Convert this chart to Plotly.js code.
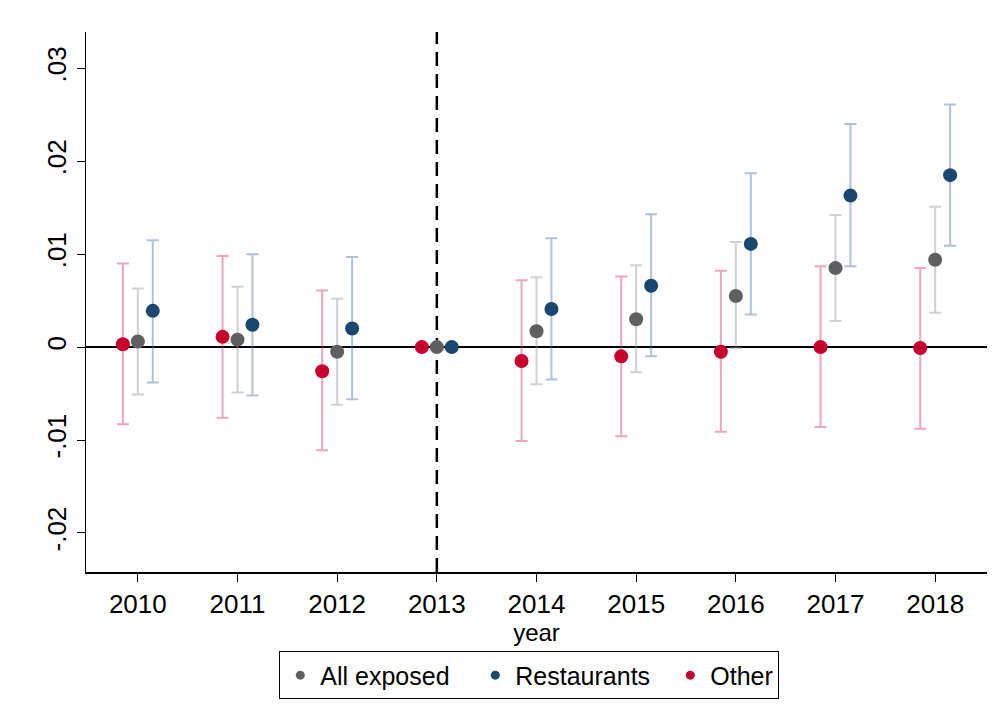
<!DOCTYPE html>
<html>
<head>
<meta charset="utf-8">
<script src="https://cdn.plot.ly/plotly-3.0.1.min.js"></script>
<style>
  html, body { margin: 0; padding: 0; background: #fff; }
  #plot { width: 1000px; height: 725px; }
</style>
</head>
<body>
<div id="plot"></div>
<script>
var years = [2010, 2011, 2012, 2013, 2014, 2015, 2016, 2017, 2018];

// point estimates and 95% CI bounds
var allCoef = [0.0006, 0.0008, -0.0005, 0, 0.0017, 0.0030, 0.0055, 0.0085, 0.0094];
var allLo   = [-0.0051, -0.0049, -0.0062, 0, -0.0040, -0.0027, -0.0001, 0.0028, 0.0037];
var allHi   = [0.0063, 0.0065, 0.0052, 0, 0.0075, 0.0088, 0.0113, 0.0142, 0.0151];

var restCoef = [0.0039, 0.0024, 0.0020, 0, 0.0041, 0.0066, 0.0111, 0.0163, 0.0185];
var restLo   = [-0.0038, -0.0052, -0.0056, 0, -0.0035, -0.0010, 0.0035, 0.0087, 0.0109];
var restHi   = [0.0115, 0.0100, 0.0097, 0, 0.0117, 0.0143, 0.0187, 0.0240, 0.0261];

var otherCoef = [0.0003, 0.0011, -0.0026, 0, -0.0015, -0.0010, -0.0005, 0.0000, -0.0001];
var otherLo   = [-0.0083, -0.0076, -0.0111, 0, -0.0101, -0.0096, -0.0091, -0.0086, -0.0088];
var otherHi   = [0.0090, 0.0098, 0.0061, 0, 0.0072, 0.0076, 0.0082, 0.0087, 0.0085];

var yTickVals = [-0.02, -0.01, 0, 0.01, 0.02, 0.03];
var yTickText = ['-.02', '-.01', '0', '.01', '.02', '.03'];

function shift(arr, d) {
  return arr.map(function (v) { return v + d; });
}

function ciTrace(name, off, coef, lo, hi, dotColor, barColor) {
  return {
    x: shift(years, off),
    y: coef,
    mode: 'markers',
    type: 'scatter',
    name: name,
    showlegend: false,
    marker: { color: dotColor, size: 14 },
    error_y: {
      type: 'data',
      symmetric: false,
      array: hi.map(function (h, i) { return h - coef[i]; }),
      arrayminus: lo.map(function (l, i) { return coef[i] - l; }),
      color: barColor,
      thickness: 2,
      width: 6
    }
  };
}

function legendTrace(name, color, w) {
  var t = {
    x: [null], y: [null],
    mode: 'markers', type: 'scatter',
    name: name,
    marker: { color: color, size: 9 }
  };
  if (w) t.legendwidth = w;
  return t;
}

var grey = '#5f5f5f', navy = '#1a476f', red = '#c8002e';

var data = [
  ciTrace('Other', -0.15, otherCoef, otherLo, otherHi, red, 'rgba(214,60,100,0.45)'),
  ciTrace('All exposed', 0, allCoef, allLo, allHi, grey, 'rgba(150,150,150,0.45)'),
  ciTrace('Restaurants', 0.15, restCoef, restLo, restHi, navy, 'rgba(80,120,165,0.45)'),
  legendTrace('All exposed', grey, 150),
  legendTrace('Restaurants', navy, 150),
  legendTrace('Other', red, 0)
];

var layout = {
  width: 1000,
  height: 725,
  margin: { l: 86, r: 13, t: 32, b: 153 },
  paper_bgcolor: '#fff',
  plot_bgcolor: '#fff',
  font: { family: 'Liberation Sans, Arial, sans-serif', color: '#000', size: 25 },
  showlegend: true,
  legend: {
    orientation: 'h',
    x: 0.492, xanchor: 'center',
    y: -0.147, yanchor: 'top',
    bordercolor: '#000',
    borderwidth: 1,
    font: { size: 25 },
    itemclick: false
  },
  xaxis: {
    range: [2009.48, 2018.52],
    tickvals: years,
    showgrid: false,
    zeroline: false,
    showline: true,
    linecolor: '#000',
    linewidth: 1.5,
    ticks: 'outside',
    ticklen: 8,
    tickcolor: '#000',
    tickfont: { size: 26 },
    title: { text: 'year', font: { size: 24 }, standoff: 0 }
  },
  yaxis: {
    range: [-0.0242, 0.0339],
    tickvals: yTickVals,
    ticktext: yTickText,
    tickangle: -90,
    showgrid: false,
    zeroline: false,
    showline: true,
    linecolor: '#000',
    linewidth: 1.5,
    ticks: 'outside',
    ticklen: 8,
    tickcolor: '#000',
    tickfont: { size: 26 }
  },
  shapes: [
    {
      type: 'line', xref: 'paper', yref: 'y',
      x0: 0, x1: 1, y0: 0, y1: 0,
      line: { color: '#000', width: 2 },
      layer: 'below'
    },
    {
      type: 'line', xref: 'x', yref: 'paper',
      x0: 2013, x1: 2013, y0: 0, y1: 1,
      line: { color: '#000', width: 2.5, dash: '14px,8px' },
      layer: 'below'
    }
  ]
};

Plotly.newPlot('plot', data, layout, { displayModeBar: false, staticPlot: true });
</script>
</body>
</html>
